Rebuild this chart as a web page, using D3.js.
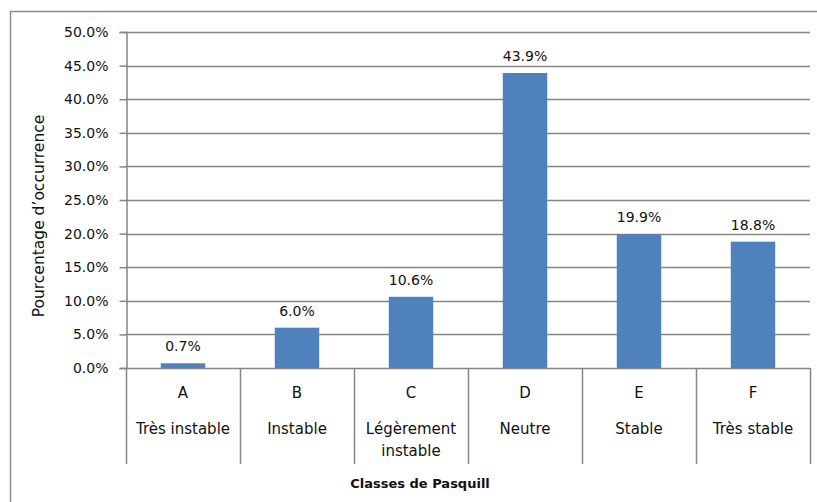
<!DOCTYPE html>
<html>
<head>
<meta charset="utf-8">
<script src="https://cdn.jsdelivr.net/npm/d3@7"></script>
<style>
  body { margin: 0; background: #fff; }
  svg text { font-family: "DejaVu Sans", Verdana, sans-serif; fill: #111; }
</style>
</head>
<body>
<svg id="chart" width="817" height="502"></svg>
<script>
// Pasquill stability classes and their frequency of occurrence (%)
const classes = ["A", "B", "C", "D", "E", "F"];
const classNames = [["Très instable"], ["Instable"], ["Légèrement", "instable"], ["Neutre"], ["Stable"], ["Très stable"]];
const occurrence = [0.7, 6.0, 10.6, 43.9, 19.9, 18.8];
const yTicks = [0, 5, 10, 15, 20, 25, 30, 35, 40, 45, 50];

const svg = d3.select("#chart");
const plotLeft = 126, plotRight = 810, plotTop = 32, plotBottom = 368;
const gridColor = "#858585";

// outer chart frame (runs off the right and bottom edges)
svg.append("rect")
  .attr("x", 10.5).attr("y", 11.5)
  .attr("width", 830).attr("height", 520)
  .attr("fill", "none").attr("stroke", "#8c8c8c").attr("stroke-width", 1.5);

const x = d3.scaleBand().domain(classes).range([plotLeft, plotRight]).paddingInner(0.61).paddingOuter(0.305);
const xOuter = d3.scaleBand().domain(classes).range([plotLeft, plotRight]);
const y = d3.scaleLinear().domain([0, 50]).range([plotBottom, plotTop]);

// horizontal gridlines
svg.append("g").selectAll("line").data(yTicks).join("line")
  .attr("x1", plotLeft).attr("x2", plotRight)
  .attr("y1", d => Math.round(y(d)) + 0.5).attr("y2", d => Math.round(y(d)) + 0.5)
  .attr("stroke", gridColor).attr("stroke-width", 1.5);

// y axis
const yAxis = svg.append("g").attr("transform", `translate(${plotLeft + 0.5},0)`)
  .call(d3.axisLeft(y).tickValues(yTicks).tickSize(7).tickPadding(11).tickFormat(d => d.toFixed(1) + "%"));
yAxis.select(".domain").attr("stroke", gridColor).attr("stroke-width", 1.5);
yAxis.selectAll(".tick line").attr("stroke", gridColor).attr("stroke-width", 1.5);
yAxis.selectAll(".tick text").attr("font-size", 14).attr("font-family", "DejaVu Sans, Verdana, sans-serif").attr("fill", "#111");

// bars
svg.append("g").selectAll("rect").data(occurrence).join("rect")
  .attr("x", (d, i) => x(classes[i]))
  .attr("width", x.bandwidth())
  .attr("y", d => y(d))
  .attr("height", d => y(0) - y(d))
  .attr("fill", "#4f81bd");

// value labels
svg.append("g").selectAll("text").data(occurrence).join("text")
  .attr("x", (d, i) => x(classes[i]) + x.bandwidth() / 2)
  .attr("y", d => y(d) - 12)
  .attr("text-anchor", "middle").attr("font-size", 14)
  .text(d => d.toFixed(1) + "%");

// category separators of the two-level axis
const seps = classes.map(c => xOuter(c)).concat([plotRight]);
svg.append("g").selectAll("line").data(seps).join("line")
  .attr("x1", d => Math.round(d) + 0.5).attr("x2", d => Math.round(d) + 0.5)
  .attr("y1", plotBottom).attr("y2", 464)
  .attr("stroke", gridColor).attr("stroke-width", 1.5);

// category letters
svg.append("g").selectAll("text").data(classes).join("text")
  .attr("x", c => xOuter(c) + xOuter.bandwidth() / 2)
  .attr("y", 398)
  .attr("text-anchor", "middle").attr("font-size", 15)
  .text(c => c);

// category descriptions
const desc = svg.append("g").selectAll("text").data(classNames).join("text")
  .attr("x", (d, i) => xOuter(classes[i]) + xOuter.bandwidth() / 2)
  .attr("y", 434)
  .attr("text-anchor", "middle").attr("font-size", 15);
desc.selectAll("tspan").data(d => d).join("tspan")
  .attr("x", function () { return d3.select(this.parentNode).attr("x"); })
  .attr("dy", (d, i) => i === 0 ? 0 : 22)
  .text(d => d);

// axis titles
svg.append("text")
  .attr("x", 420).attr("y", 488)
  .attr("text-anchor", "middle").attr("font-size", 13).attr("font-weight", "bold")
  .text("Classes  de Pasquill");

svg.append("text")
  .attr("transform", "translate(44,216) rotate(-90)")
  .attr("text-anchor", "middle").attr("font-size", 15.5)
  .text("Pourcentage d’occurrence");
</script>
</body>
</html>
